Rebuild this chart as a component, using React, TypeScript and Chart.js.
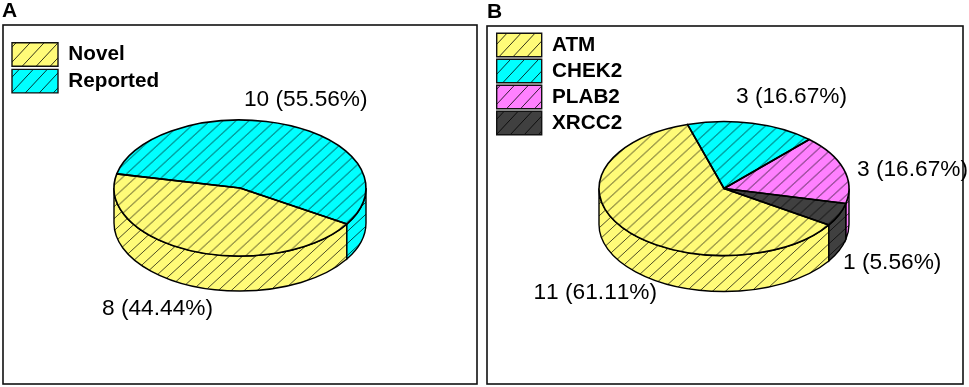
import React, { useEffect, useRef } from "react";
import { Chart, registerables } from "chart.js";

Chart.register(...registerables);

// ---- data ----
const labelsA = ["Novel", "Reported"];
const valuesA = [8, 10];
const labelsB = ["ATM", "CHEK2", "PLAB2", "XRCC2"];
const valuesB = [11, 3, 3, 1];

// ---- styles ----
const coloursA = ["#FFFB78", "#00FFFF"];
const coloursB = ["#FFFB78", "#00FFFF", "#FF80FF", "#404040"];
const FONT = "'Liberation Sans', Arial, sans-serif";

type PanelCfg = {
  letter: string;
  labels: string[];
  values: number[];
  colours: string[];
  canvasLeft: number;
  canvasWidth: number;
  frame: number[];
  letterX: number;
  letterY: number;
  radius: number;
  squash: number;
  depth: number;
  rotation: number;
  padding: { left: number; right: number; top: number; bottom: number };
  legendPad: number;
  boxWidth: number;
  labelPos: number[][];
};

const panelA: PanelCfg = {
  letter: "A",
  labels: labelsA,
  values: valuesA,
  colours: coloursA,
  canvasLeft: 0,
  canvasWidth: 482,
  frame: [3, 25, 474, 359],
  letterX: 2,
  letterY: 11,
  radius: 126,
  squash: 68 / 126,
  depth: 35,
  rotation: 122,
  padding: { left: 8.8, right: 10.8, top: 39.5, bottom: 50.5 },
  legendPad: 3.2,
  boxWidth: 46,
  labelPos: [
    [102, 309],
    [244, 100],
  ],
};

const panelB: PanelCfg = {
  letter: "B",
  labels: labelsB,
  values: valuesB,
  colours: coloursB,
  canvasLeft: 482,
  canvasWidth: 487,
  frame: [5, 26, 476, 358],
  letterX: 5,
  letterY: 12,
  radius: 125,
  squash: 67 / 125,
  depth: 36,
  rotation: 123,
  padding: { left: 12.2, right: 15.2, top: 30.8, bottom: 40.8 },
  legendPad: 2.5,
  boxWidth: 45,
  labelPos: [
    [51.5, 293],
    [254, 97],
    [375, 170],
    [361, 263],
  ],
};

function hatch(colour: string, w: number, h: number, scaleY: number, ink: string): CanvasPattern {
  const tile = document.createElement("canvas");
  tile.width = w;
  tile.height = h;
  const t = tile.getContext("2d")!;
  t.fillStyle = colour;
  t.fillRect(0, 0, w, h);
  t.strokeStyle = ink;
  t.lineWidth = 1;
  t.beginPath();
  for (const [ox, oy] of [
    [-w, h],
    [0, 0],
    [w, -h],
  ]) {
    t.moveTo(ox, oy + h);
    t.lineTo(ox + w, oy);
  }
  t.stroke();
  const p = t.createPattern(tile, "repeat")!;
  if (scaleY !== 1) p.setTransform(new DOMMatrix().scale(1, scaleY));
  return p;
}

function pieAngles(arc: any) {
  return arc.getProps(["x", "y", "startAngle", "endAngle", "outerRadius"], true);
}

function Panel({ cfg }: { cfg: PanelCfg }) {
  const ref = useRef<HTMLCanvasElement | null>(null);

  useEffect(() => {
    const k = cfg.squash;
    const ink = "rgba(0,0,0,0.7)";
    const facePatterns = cfg.colours.map((c) => hatch(c, 13, 12, 1 / k, ink));
    const wallPatterns = cfg.colours.map((c) => hatch(c, 13, 12, 1, ink));
    const legendPatterns = cfg.colours.map((c) => hatch(c, 14, 15, 1, "rgba(0,0,0,0.8)"));
    const total = cfg.values.reduce((a, b) => a + b, 0);

    const plugin = {
      id: "pie3d",
      afterLayout(chart: any) {
        const legend = chart.legend;
        legend.top = chart.chartArea.top;
        legend.bottom = chart.chartArea.bottom;
      },
      beforeDraw(chart: any) {
        const ctx = chart.ctx;
        const [x, y, w, h] = cfg.frame;
        ctx.save();
        ctx.strokeStyle = "#111";
        ctx.lineWidth = 1.6;
        ctx.strokeRect(x, y, w, h);
        ctx.fillStyle = "#000";
        ctx.font = `bold 21px ${FONT}`;
        ctx.textBaseline = "middle";
        ctx.textAlign = "left";
        ctx.fillText(cfg.letter, cfg.letterX, cfg.letterY);
        ctx.restore();
      },
      beforeDatasetsDraw(chart: any) {
        const ctx = chart.ctx;
        const arcs = chart.getDatasetMeta(0).data;
        const d = cfg.depth;
        arcs.forEach((arc: any, i: number) => {
          const { x, y, startAngle, endAngle, outerRadius: r } = pieAngles(arc);
          const ry = r * k;
          const TAU = Math.PI * 2;
          for (const shift of [0, -TAU, TAU]) {
            const a = Math.max(startAngle + shift, 0);
            const b = Math.min(endAngle + shift, Math.PI);
            if (b <= a) continue;
            ctx.save();
            ctx.beginPath();
            ctx.ellipse(x, y, r, ry, 0, a, b);
            ctx.lineTo(x + r * Math.cos(b), y + ry * Math.sin(b) + d);
            ctx.ellipse(x, y + d, r, ry, 0, b, a, true);
            ctx.closePath();
            ctx.fillStyle = wallPatterns[i];
            ctx.fill();
            ctx.strokeStyle = "#000";
            ctx.lineWidth = 1.4;
            ctx.stroke();
            ctx.restore();
          }
        });
        const { x, y } = pieAngles(arcs[0]);
        ctx.save();
        ctx.translate(x, y);
        ctx.scale(1, k);
        ctx.translate(-x, -y);
      },
      afterDatasetsDraw(chart: any) {
        const ctx = chart.ctx;
        ctx.restore();
        const arcs = chart.getDatasetMeta(0).data;
        arcs.forEach((arc: any) => {
          const { x, y, startAngle, endAngle, outerRadius: r } = pieAngles(arc);
          ctx.save();
          ctx.beginPath();
          ctx.save();
          ctx.translate(x, y);
          ctx.scale(1, k);
          ctx.moveTo(0, 0);
          ctx.arc(0, 0, r, startAngle, endAngle);
          ctx.closePath();
          ctx.restore();
          ctx.strokeStyle = "#000";
          ctx.lineWidth = 1.6;
          ctx.lineJoin = "round";
          ctx.stroke();
          ctx.restore();
        });
        ctx.save();
        ctx.fillStyle = "#000";
        ctx.font = `22.7px ${FONT}`;
        (ctx as any).fontKerning = "none";
        ctx.textBaseline = "middle";
        ctx.textAlign = "left";
        cfg.values.forEach((v, i) => {
          const [px, py] = cfg.labelPos[i];
          ctx.fillText(`${v} (${((v / total) * 100).toFixed(2)}%)`, px, py);
        });
        ctx.restore();
      },
    };

    const chart = new Chart(ref.current!, {
      type: "pie",
      data: {
        labels: cfg.labels,
        datasets: [
          {
            data: cfg.values,
            backgroundColor: facePatterns as any,
            borderWidth: 0,
            radius: cfg.radius,
            clip: false as any,
          } as any,
        ],
      },
      options: {
        responsive: false,
        animation: false,
        events: [],
        rotation: cfg.rotation,
        layout: { padding: cfg.padding },
        plugins: {
          tooltip: { enabled: false },
          legend: {
            display: true,
            position: "chartArea" as any,
            align: "start",
            labels: {
              boxWidth: cfg.boxWidth,
              boxHeight: 23.5,
              padding: cfg.legendPad,
              color: "#000",
              font: { family: FONT, size: 20.7, weight: "bold", lineHeight: 1 },
              generateLabels: () =>
                cfg.labels.map((text, i) => ({
                  text,
                  fillStyle: legendPatterns[i] as any,
                  strokeStyle: "#111",
                  lineWidth: 1.4,
                  hidden: false,
                  index: i,
                })),
            },
          },
        },
      },
      plugins: [plugin as any],
    });
    return () => chart.destroy();
  }, [cfg]);

  return (
    <canvas
      ref={ref}
      width={cfg.canvasWidth}
      height={387}
      style={{
        position: "absolute",
        left: cfg.canvasLeft,
        top: 0,
        width: cfg.canvasWidth,
        height: 387,
        display: "block",
      }}
    />
  );
}

export default function App() {
  return (
    <div style={{ position: "absolute", left: 0, top: 0, width: 969, height: 387, overflow: "hidden", background: "#fff" }}>
      <Panel cfg={panelA} />
      <Panel cfg={panelB} />
    </div>
  );
}
